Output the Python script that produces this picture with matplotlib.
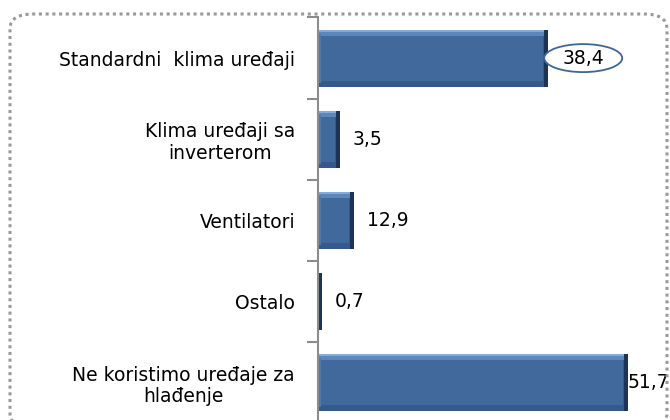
import matplotlib
matplotlib.use("Agg")
import matplotlib.pyplot as plt
from matplotlib.patches import FancyBboxPatch, Ellipse

categories = ["Standardni  klima uređaji", "Klima uređaji sa\ninverterom",
              "Ventilatori", "Ostalo", "Ne koristimo uređaje za\nhlađenje"]
bar_lengths = [38.4, 3.6, 6.0, 0.7, 51.7]          # lengths as drawn in the picture
value_labels = ["38,4", "3,5", "12,9", "0,7", "51,7"]  # labels as printed
circled = [True, False, False, False, False]

W, H = 670, 420
fig = plt.figure(figsize=(6.7, 4.2), dpi=100)
fig.patch.set_facecolor("white")

ax_left_px, ax_top_px, ax_bottom_px = 318, 17.5, 423.5
ax = fig.add_axes([ax_left_px / W, 1 - ax_bottom_px / H, 1 - ax_left_px / W,
                   (ax_bottom_px - ax_top_px) / H])
px_per_unit = 6.0
xmax = (W - ax_left_px) / px_per_unit
n = len(categories)
ax.set_xlim(0, xmax)
ax.set_ylim(n - 0.5, -0.5)
ax.set_facecolor("none")

dx = 1 / px_per_unit                 # one pixel in x data units
dy = n / (ax_bottom_px - ax_top_px)  # one pixel in y data units
h = 0.7

for i, v in enumerate(bar_lengths):
    top = i - h / 2
    ax.barh(i, v, height=h, color="#1E3456", linewidth=0)
    w1 = max(v - 4 * dx, 0)
    ax.barh(i, w1, height=h, color="#35598A", linewidth=0)
    ax.barh(top + 3 * dy, w1, height=6 * dy, color="#5C87BD", linewidth=0)
    ax.barh(top + 1 * dy, w1, height=2 * dy, color="#86AADA", linewidth=0)
    ax.barh(i, min(3 * dx, w1), height=h - 8 * dy, left=0, color="#4E78AD", linewidth=0)
    wi = max(v - 8 * dx, 0)
    ax.barh(i, wi, height=h - 12 * dy, left=3 * dx if wi > 0 else 0,
            color="#41699B", linewidth=0)

gap = 13 * dx
for i, (v, lab, circ) in enumerate(zip(bar_lengths, value_labels, circled)):
    if circ:
        cx = v + 5.8
        ax.add_patch(Ellipse((cx, i), 13.0, 28 * dy, facecolor="white",
                             edgecolor="#3D6699", linewidth=1.3, zorder=3))
        ax.text(cx, i, lab, ha="center", va="center", fontsize=13.5,
                color="black", zorder=4)
    else:
        x = min(v + gap, xmax - 7.1)
        ax.text(x, i, lab, ha="left", va="center", fontsize=13.5,
                color="black", clip_on=False)

ax.set_yticks(range(n))
ax.set_yticklabels(categories, fontsize=13.5, multialignment="center",
                   linespacing=1.15)
ax.tick_params(axis="y", length=0, pad=16.5)
ax.set_yticks([k - 0.5 for k in range(n + 1)], minor=True)
ax.tick_params(axis="y", which="minor", length=8, width=1.5, color="#8C8C8C",
               direction="out")
ax.set_xticks([])
for s in ["top", "right", "bottom"]:
    ax.spines[s].set_visible(False)
ax.spines["left"].set_color("#8C8C8C")
ax.spines["left"].set_linewidth(1.5)

border = FancyBboxPatch((10 / W, 1 - 428 / H), 657 / W, (428 - 14) / H,
                        boxstyle="round,pad=0,rounding_size=0.035",
                        transform=fig.transFigure, facecolor="none",
                        edgecolor="#999999", linewidth=2.2,
                        linestyle=(0, (1, 1.2)), zorder=0)
fig.patches.append(border)

fig.savefig("out.png", dpi=100)
